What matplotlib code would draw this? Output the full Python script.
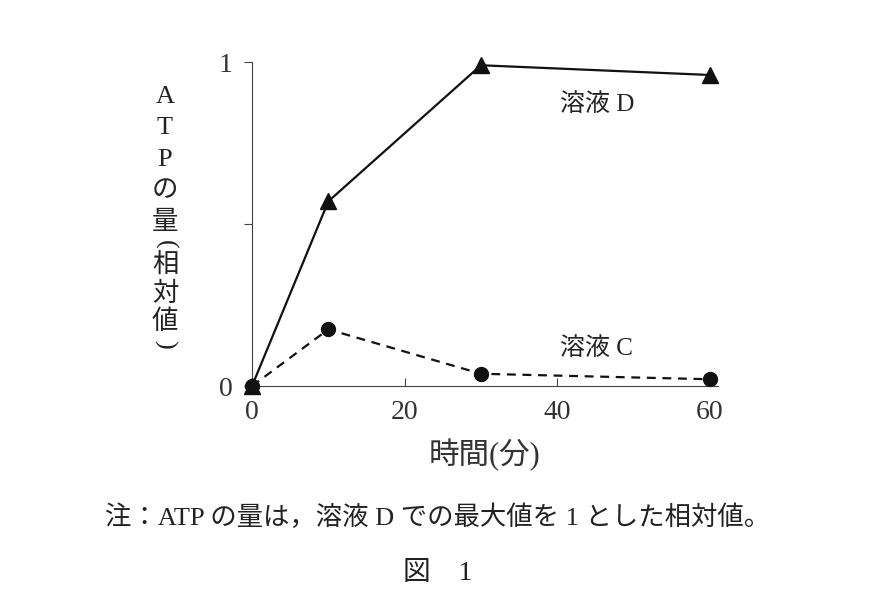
import matplotlib
matplotlib.use('Agg')
import matplotlib.pyplot as plt

plt.rcParams['font.family'] = ['Liberation Serif', 'Noto Sans CJK JP', 'DejaVu Sans']

# 時間(分)
time = [0, 10, 30, 60]
# ATPの量(相対値)
sol_d = [0, 0.57, 0.99, 0.96]
sol_c = [0, 0.175, 0.038, 0.021]
xticks = [0, 20, 40, 60]
yticks = [0, 0.5, 1]
yticklabels = ['0', '', '1']
ylabel_chars = ['A', 'T', 'P', 'の', '量', '(', '相', '対', '値', ')']

fig = plt.figure(figsize=(8.75, 6.08), dpi=100)
ax = fig.add_axes([0.288, 0.365, 0.532, 0.533])

ax.plot(time, sol_d, color='#111111', lw=1.6, marker='^', ms=11, clip_on=False, zorder=3)
ax.plot(time, sol_c, color='#111111', lw=1.6, ls=(0, (4, 3)), marker='o', ms=10, clip_on=False, zorder=3)

ax.set_xlim(0, 61)
ax.set_ylim(0, 1)
ax.spines['top'].set_visible(False)
ax.spines['right'].set_visible(False)
ax.spines['left'].set_color('#444444')
ax.spines['bottom'].set_color('#444444')
ax.set_xticks(xticks)
ax.set_xticklabels([str(t) for t in xticks], fontsize=20, color='#333333')
ax.set_yticks(yticks)
ax.set_yticklabels(yticklabels, fontsize=20, color='#333333')
ax.tick_params(axis='x', direction='in', length=6, color='#444444', pad=10)
ax.tick_params(axis='y', direction='out', length=6, color='#444444', pad=8)

ax.set_xlabel('時間(分)', fontsize=22, color='#333333', labelpad=10)

ax.text(45.2, 0.87, '溶液 D', fontsize=18, ha='center', va='center', color='#222222')
ax.text(45.2, 0.117, '溶液 C', fontsize=18, ha='center', va='center', color='#222222')

# vertical y label, one character per line; brackets turned for vertical writing
ypos = [97, 128, 160, 191, 222, 244, 265, 294, 322, 344]
for ch, yp in zip(ylabel_chars, ypos):
    rot = -90 if ch in '()' else 0
    fig.text(165 / 875, 1 - yp / 608, ch, fontsize=19, ha='center', va='center',
             rotation=rot, color='#222222')

fig.text(438 / 875, 1 - 517 / 608, '注：ATP の量は，溶液 D での最大値を 1 とした相対値。',
         fontsize=19, ha='center', va='center', color='#222222')
fig.text(438 / 875, 1 - 573 / 608, '図　1', fontsize=20, ha='center', va='center', color='#222222')

fig.savefig('out.png', dpi=100)
